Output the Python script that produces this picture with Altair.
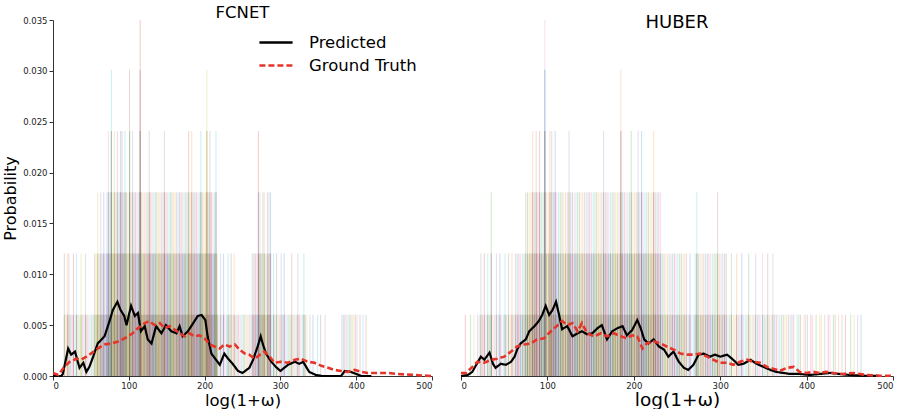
import altair as alt
import pandas as pd

# Height of one sample spike (one count in a run of ~166 draws)
LEVEL = 0.00602

# Spike stack height per 2-unit bin of log(1+w), bins 0..249 (0 = no spike)
fc_profile = (
    "0000000" "21221121211211211111" "22323232" "343534343443433"
    "5343333633" "3334333333" "3334333333" "3333333334" "3433333433"
    "35343334" "212121121212" "11111111111" "2222432332333" "121211"
    "2121111211121112" "11" "010100101001" "0000000000" "1111111111"
    "1010101" "0000000000000000000000000000000000000000000"
)
hb_profile = (
    "0010010" "101" "121212131121211212121" "222222" "3333434343363"
    "3443433333" "3343333333" "3333333333" "3343333333" "3353333343"
    "3343433333" "343333" "222222222222222" "121123" "2222222222232"
    "2222" "112112112111211121112112112" "1111111111" "110111011"
    "1011010110101101" "1010101001010101" "000000000000000000"
)

fc_pred_x = [0, 11, 13, 20, 24, 29, 35, 40, 44, 48, 53, 59, 68, 75, 79, 85, 89, 94, 97, 103,
             108, 112, 116, 121, 125, 130, 136, 143, 149, 156, 163, 167, 171, 178, 185, 191, 196, 201, 204, 209,
             215, 220, 226, 231, 237, 244, 250, 259, 264, 270, 274, 277, 281, 288, 294, 300, 310, 319, 325, 330,
             334, 338, 347, 355, 380, 385, 393, 400, 407, 420]
fc_pred_y = [0, 0, 0.0002, 0.0027, 0.0021, 0.0024, 0.0008, 0.0013, 0.0004, 0.0009,
             0.0019, 0.0032, 0.0039, 0.0055, 0.0065, 0.0073, 0.0065, 0.0059, 0.0050, 0.0069,
             0.0059, 0.0062, 0.0044, 0.0049, 0.0036, 0.0032, 0.0049, 0.0042, 0.0050, 0.0044,
             0.0042, 0.0049, 0.0039, 0.0044, 0.0052, 0.0059, 0.0060, 0.0055, 0.0039, 0.0022,
             0.0016, 0.0011, 0.0022, 0.0017, 0.0012, 0.0005, 0.0003, 0.0008, 0.0016, 0.0029,
             0.0039, 0.0031, 0.0022, 0.0014, 0.0009, 0.0005, 0.0011, 0.0014, 0.0012, 0.0014,
             0.0009, 0.0004, 0.0001, 0, 0, 0.0005, 0.0004, 0.0002, 0, 0]

fc_true_x = [0, 7, 15, 22, 31, 37, 44, 50, 59, 68, 77, 86, 92, 99, 105, 112, 121, 127, 134, 141,
             147, 154, 160, 167, 174, 180, 187, 193, 200, 207, 213, 220, 226, 233, 240, 246, 253, 259, 266, 273,
             279, 286, 292, 301, 310, 319, 327, 336, 345, 354, 363, 371, 380, 389, 398, 407, 415, 424, 433, 442,
             455, 477, 499]
fc_true_y = [0.0003, 0.0001, 0.0009, 0.0014, 0.0017, 0.0016, 0.0019, 0.0022, 0.0027, 0.0031,
             0.0032, 0.0034, 0.0036, 0.0039, 0.0042, 0.0047, 0.0052, 0.0054, 0.0050, 0.0052,
             0.0047, 0.0049, 0.0046, 0.0042, 0.0039, 0.0042, 0.0039, 0.0040, 0.0037, 0.0031,
             0.0029, 0.0027, 0.0031, 0.0029, 0.0031, 0.0026, 0.0022, 0.0021, 0.0017, 0.0021,
             0.0024, 0.0019, 0.0013, 0.0014, 0.0013, 0.0016, 0.0017, 0.0014, 0.0013, 0.0010,
             0.0008, 0.0006, 0.0005, 0.0004, 0.0006, 0.0004, 0.0003, 0.0003, 0.0003, 0.0003,
             0.0002, 0.0001, 0.0000]

hb_pred_x = [0, 8, 13, 19, 23, 27, 33, 37, 40, 46, 52, 58, 62, 65, 69, 75, 79, 85, 90, 94,
             98, 102, 106, 110, 113, 117, 123, 129, 135, 140, 146, 152, 158, 163, 169, 175, 181, 187, 192, 198,
             204, 208, 212, 217, 223, 229, 235, 240, 246, 252, 258, 263, 269, 275, 281, 288, 294, 300, 308, 315,
             321, 327, 335, 342, 350, 358, 365, 373, 381, 392, 404, 415, 427, 438, 450, 465, 485]
hb_pred_y = [0, 0.0001, 0.0004, 0.0013, 0.0019, 0.0016, 0.0023, 0.0012, 0.0008, 0.0012,
             0.0011, 0.0014, 0.0019, 0.0026, 0.0032, 0.0036, 0.0044, 0.0049, 0.0054, 0.0060,
             0.0069, 0.0060, 0.0065, 0.0073, 0.0062, 0.0046, 0.0049, 0.0039, 0.0042, 0.0044,
             0.0041, 0.0042, 0.0047, 0.0050, 0.0036, 0.0044, 0.0047, 0.0049, 0.0040, 0.0045,
             0.0055, 0.0047, 0.0036, 0.0032, 0.0036, 0.0029, 0.0026, 0.0019, 0.0024, 0.0014,
             0.0008, 0.0006, 0.0011, 0.0021, 0.0022, 0.0019, 0.0021, 0.0019, 0.0021, 0.0016,
             0.0011, 0.0012, 0.0016, 0.0012, 0.0009, 0.0006, 0.0004, 0.0003, 0.0002, 0.0002,
             0.0001, 0.0002, 0.0003, 0.0002, 0.0001, 0.00003, 0]

hb_true_x = [0, 6, 12, 19, 27, 35, 42, 50, 58, 65, 73, 81, 88, 96, 104, 112, 117, 123, 129, 135,
             140, 146, 154, 162, 169, 177, 185, 192, 198, 204, 210, 215, 223, 231, 238, 246, 254, 262, 269, 277,
             285, 292, 300, 308, 315, 323, 331, 338, 346, 354, 362, 369, 377, 385, 392, 400, 408, 415, 423, 431,
             442, 454, 469, 485, 499]
hb_true_y = [0.0003, 0.0003, 0.0008, 0.0014, 0.0013, 0.0016, 0.0017, 0.0019, 0.0024, 0.0029,
             0.0031, 0.0032, 0.0036, 0.0037, 0.0044, 0.0050, 0.0054, 0.0050, 0.0052, 0.0044,
             0.0052, 0.0042, 0.0039, 0.0042, 0.0039, 0.0042, 0.0039, 0.0037, 0.0040, 0.0039,
             0.0027, 0.0032, 0.0034, 0.0032, 0.0029, 0.0026, 0.0022, 0.0021, 0.0021, 0.0022,
             0.0019, 0.0016, 0.0013, 0.0013, 0.0011, 0.0014, 0.0016, 0.0014, 0.0013, 0.0009,
             0.0007, 0.0005, 0.0008, 0.0009, 0.0004, 0.0003, 0.0004, 0.0003, 0.0004, 0.0003,
             0.0002, 0.0003, 0.0001, 0.00003, 0.00003]

SERIES = ["Predicted", "Ground Truth"]
SAMPLE_COLORS = ["#1f77b4", "#ff7f0e", "#2ca02c", "#d62728", "#9467bd",
                 "#8c564b", "#e377c2", "#7f7f7f", "#bcbd22", "#17becf"]
FONT = "DejaVu Sans"


def spike_table(profile):
    # A bin whose tallest spike reaches level L holds (L - j + 1) spikes of
    # height j, so the lower levels are covered by more overlapping samples.
    rows = []
    for i, ch in enumerate(profile):
        top = int(ch)
        for j in range(1, top + 1):
            for c in range(top - j + 1):
                rows.append({"x": 2 * i + 1, "p": j * LEVEL,
                             "col": SAMPLE_COLORS[(3 * i + 7 * j + c) % 10]})
    return pd.DataFrame(rows)


def curve_table(xs, ys, name):
    return pd.DataFrame({"x": xs, "p": ys, "series": name})


legend = alt.Legend(
    title=None, orient="none", legendX=205, legendY=14,
    symbolType="stroke", symbolSize=1100, symbolStrokeWidth=2.5,
    labelFontSize=16.5, labelFont=FONT, labelColor="black",
    labelOffset=15, rowPadding=6, clipHeight=17,
)
color_enc = alt.Color("series:N", scale=alt.Scale(domain=SERIES, range=["black", "#e5352b"]), legend=legend)
dash_enc = alt.StrokeDash("series:N", scale=alt.Scale(domain=SERIES, range=[[1, 0], [6, 3]]), legend=legend)

x_scale = alt.Scale(domain=[0, 500], nice=False)
y_scale = alt.Scale(domain=[0, 0.035], nice=False)


def x_axis(title_size, title_pad):
    return alt.Axis(title="log(1+ω)", values=[0, 100, 200, 300, 400, 500], grid=False,
                    titleFontSize=title_size, titleFont=FONT, titleFontWeight="normal", titleColor="black",
                    labelFontSize=8.5, labelFont=FONT, labelColor="#222", tickSize=4,
                    domainColor="#333", tickColor="#333", titlePadding=title_pad, labelPadding=1)


y_axis = alt.Axis(title="Probability", values=[0, 0.005, 0.01, 0.015, 0.02, 0.025, 0.03, 0.035],
                  format=".3f", grid=False,
                  titleFontSize=16, titleFont=FONT, titleFontWeight="normal", titleColor="black",
                  labelFontSize=8.5, labelFont=FONT, labelColor="#222", tickSize=4,
                  domainColor="#333", tickColor="#333", titlePadding=4, labelPadding=2)


def panel(title, title_size, title_offset, xtitle_size, xtitle_pad,
          profile, px, py, tx, ty, w, show_y):
    yax = y_axis if show_y else None
    xax = x_axis(xtitle_size, xtitle_pad)
    spikes = alt.Chart(spike_table(profile)).mark_rule(strokeWidth=1.1, opacity=0.22, clip=True).encode(
        x=alt.X("x:Q", scale=x_scale, axis=xax),
        y=alt.Y("p:Q", scale=y_scale, axis=yax),
        y2=alt.datum(0),
        stroke=alt.Stroke("col:N", scale=None),
    )
    pred = alt.Chart(curve_table(px, py, "Predicted")).mark_line(strokeWidth=2.2).encode(
        x=alt.X("x:Q", scale=x_scale, axis=xax),
        y=alt.Y("p:Q", scale=y_scale, axis=yax),
        color=color_enc, strokeDash=dash_enc,
    )
    truth = alt.Chart(curve_table(tx, ty, "Ground Truth")).mark_line(strokeWidth=2.6).encode(
        x=alt.X("x:Q", scale=x_scale, axis=xax),
        y=alt.Y("p:Q", scale=y_scale, axis=yax),
        color=color_enc, strokeDash=dash_enc,
    )
    return alt.layer(spikes, pred, truth).properties(
        width=w, height=356,
        title=alt.TitleParams(title, fontSize=title_size, font=FONT, fontWeight="normal", color="black",
                              offset=title_offset),
    )


left = panel("FCNET", 16.5, -5, 16.5, 3, fc_profile, fc_pred_x, fc_pred_y, fc_true_x, fc_true_y, 379, True)
right = panel("HUBER", 18, -12, 18.5, 1, hb_profile, hb_pred_x, hb_pred_y, hb_true_x, hb_true_y, 432, False)

chart = alt.hconcat(left, right, spacing=29, bounds="flush").properties(
    padding={"left": 2, "top": 4, "right": 5, "bottom": 0},
    background="white",
).configure_view(stroke=None)

chart.save("out.html", embed_options={"renderer": "svg", "actions": False})
